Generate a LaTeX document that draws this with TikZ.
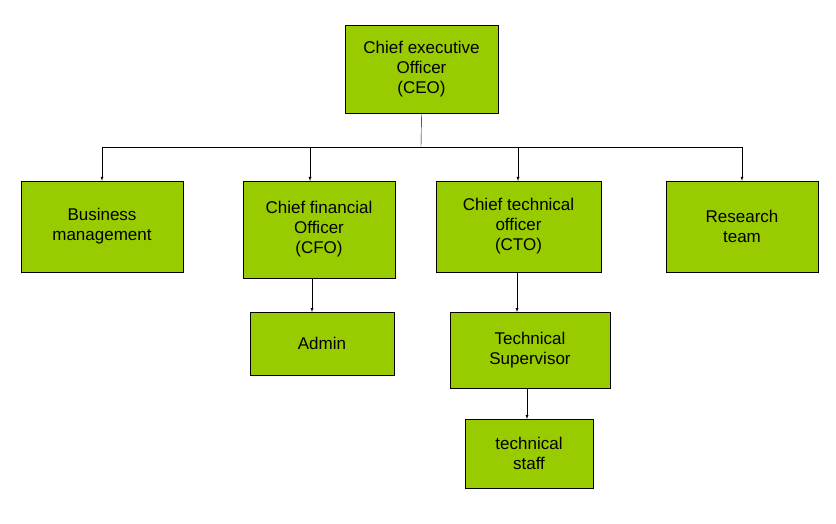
\documentclass[tikz,border=0pt]{standalone}
\usepackage{fontspec}
\setmainfont{Liberation Sans}
\begin{document}
\begin{tikzpicture}[x=1pt,y=-1pt,
  box/.style={draw=black,fill={rgb,255:red,153;green,204;blue,0},align=center,font=\fontsize{17}{20}\selectfont,inner sep=0pt},
  arr/.style={-latex,black}]
\useasboundingbox (0,0) rectangle (836,524);
\node[box,minimum width=153,minimum height=88] (ceo) at (421.5,69) {Chief executive\\Officer\\(CEO)};
\node[box,minimum width=162,minimum height=91] (bm) at (102,226.5) {Business\\management};
\node[box,minimum width=152,minimum height=97] (cfo) at (319,229.5) {Chief financial\\Officer\\(CFO)};
\node[box,minimum width=165,minimum height=91] (cto) at (518.5,226.5) {Chief technical\\officer\\(CTO)};
\node[box,minimum width=152,minimum height=91] (rt) at (742,226.5) {Research\\team};
\node[box,minimum width=144,minimum height=63] (ad) at (322,343.5) {Admin};
\node[box,minimum width=160,minimum height=76] (ts) at (530,350) {Technical\\Supervisor};
\node[box,minimum width=128,minimum height=69] (st) at (529,453.5) {technical\\staff};
\coordinate (j) at (421,147);
\draw (ceo.south) -- (j);
\draw (bm.north |- j) -- (rt.north |- j);
\draw[arr] (bm.north |- j) -- (bm.north);
\draw[arr] (310,147) -- (310,181);
\draw[arr] (518,147) -- (518,181);
\draw[arr] (rt.north |- j) -- (rt.north);
\draw[arr] (312,278) -- (312,312);
\draw[arr] (517,272) -- (517,312);
\draw[arr] (527,388) -- (527,419);
\end{tikzpicture}
\end{document}
